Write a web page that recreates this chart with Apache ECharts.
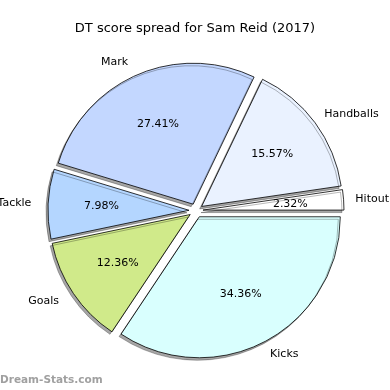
<!DOCTYPE html>
<html><head><meta charset="utf-8">
<script src="https://cdn.jsdelivr.net/npm/echarts@6/dist/echarts.min.js"></script>
<style>html,body{margin:0;padding:0;background:#fff}#c{width:390px;height:390px}</style>
</head><body><div id="c"></div>
<script>
const categories = ['Hitout','Handballs','Mark','Tackle','Goals','Kicks'];
const values = [2.32, 15.57, 27.41, 7.98, 12.36, 34.36];
const colors = ['#ffffff','#eaf2ff','#c3d7ff','#b4d6ff','#d0ea8a','#d9fffe'];
const titleText = 'DT score spread for Sam Reid (2017)';
const watermark = 'Dream-Stats.com';

const R = 141, CX = 196, CY = 210.6, OFF = 7;
const total = values.reduce((a,b)=>a+b,0);
let cum = 0;
const mids = values.map(v => { const m = (cum + v/2)/total*360; cum += v; return m; });

const font = 'DejaVu Sans';
const LFS = 11;
const SHIFT = 5; // twice the leftward nudge of name labels
const ctx = document.createElement('canvas').getContext('2d');
ctx.font = LFS + 'px "DejaVu Sans"';
const widths = categories.map(c => ctx.measureText(c).width);

const base = {
  type: 'pie', center: [CX, CY], startAngle: 0, clockwise: false,
  selectedMode: 'multiple', selectedOffset: OFF, silent: true, animation: false,
  labelLine: { show: false }, emphasis: { disabled: true }
};

const chart = echarts.init(document.getElementById('c'), null, {renderer: 'canvas'});
chart.setOption({
  backgroundColor: '#fff',
  title: { text: titleText, left: 'center', top: 17,
    textStyle: { fontFamily: font, fontSize: 13, fontWeight: 'normal', color: '#000' } },
  graphic: [{ type: 'text', left: 0, top: 375,
    style: { text: watermark, fontFamily: font, fontSize: 10.5, fontWeight: 'bold', fill: '#a0a0a0' } }],
  series: [
    Object.assign({}, base, {
      radius: R, z: 2,
      itemStyle: { borderColor: '#000', borderWidth: 0.8,
        shadowColor: 'rgba(0,0,0,0.35)', shadowBlur: 0, shadowOffsetX: -2, shadowOffsetY: 2.5 },
      select: { itemStyle: { borderColor: '#000', borderWidth: 0.8 } },
      label: { show: false },
      data: categories.map((c,i)=>({ name: c, value: values[i], selected: true,
        itemStyle: { color: colors[i] }, select: { itemStyle: { color: colors[i] } } }))
    }),
    Object.assign({}, base, {
      radius: R * 1.2, z: 3,
      itemStyle: { color: 'rgba(0,0,0,0)', borderWidth: 0 },
      select: { itemStyle: { color: 'rgba(0,0,0,0)', borderWidth: 0 } },
      label: { show: true, position: 'inside', formatter: p => values[p.dataIndex].toFixed(2) + '%',
        fontFamily: font, fontSize: LFS, color: '#000' },
      data: categories.map((c,i)=>({ name: c, value: values[i], selected: true }))
    }),
    Object.assign({}, base, {
      radius: R * 2.16, z: 3,
      itemStyle: { color: 'rgba(0,0,0,0)', borderWidth: 0 },
      select: { itemStyle: { color: 'rgba(0,0,0,0)', borderWidth: 0 } },
      label: { show: true, position: 'inside', formatter: '{b}',
        fontFamily: font, fontSize: LFS, color: '#000' },
      data: categories.map((c,i)=>{
        const right = Math.cos(mids[i]*Math.PI/180) > 0;
        return { name: c, value: values[i], selected: true,
          label: { padding: right ? [0,0,0,widths[i]-SHIFT] : [0,widths[i]+SHIFT,0,0] } };
      })
    })
  ]
});
</script></body></html>
